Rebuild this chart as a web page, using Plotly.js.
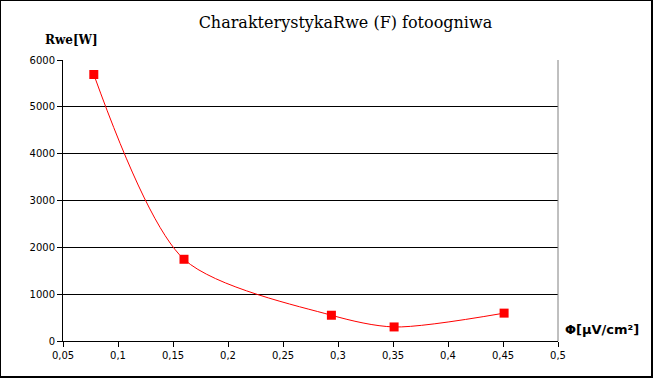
<!DOCTYPE html>
<html>
<head>
<meta charset="utf-8">
<script src="https://cdn.plot.ly/plotly-3.0.1.min.js"></script>
<style>
html,body{margin:0;padding:0;background:#fff;}
#wrap{position:relative;width:653px;height:378px;}
#chart{width:653px;height:378px;}
#frame{position:absolute;left:0;top:0;width:653px;height:378px;box-sizing:border-box;border-left:1px solid #000;border-top:1px solid #000;border-right:2px solid #000;border-bottom:2px solid #000;pointer-events:none;}
</style>
</head>
<body>
<div id="wrap"><div id="chart"></div><div id="frame"></div></div>
<script>
const flux = [0.078, 0.16, 0.294, 0.351, 0.451];
const rwe = [5690, 1745, 550, 300, 595];
const xTicks = [0.05, 0.1, 0.15, 0.2, 0.25, 0.3, 0.35, 0.4, 0.45, 0.5];
const yTicks = [0, 1000, 2000, 3000, 4000, 5000, 6000];

const trace = {
  x: flux, y: rwe, type: 'scatter', mode: 'lines+markers',
  line: {color: '#ff0000', width: 1, shape: 'spline', smoothing: 0.8},
  marker: {symbol: 'square', size: 9, color: '#ff0000'},
  hoverinfo: 'none'
};

const layout = {
  width: 653, height: 378,
  margin: {l: 63, r: 95, t: 60, b: 37},
  paper_bgcolor: '#fff', plot_bgcolor: '#fff',
  separators: ', ',
  showlegend: false,
  font: {family: 'DejaVu Sans', size: 11, color: '#000'},
  title: {text: 'CharakterystykaRwe (F) fotoogniwa', font: {family: 'DejaVu Serif', size: 16, color: '#000'},
          x: 0.529, xanchor: 'center', y: 0.94, yanchor: 'middle'},
  xaxis: {
    range: [0.05, 0.5], tickvals: xTicks, ticktext: xTicks.map(v => String(v).replace('.', ',')),
    showgrid: false, zeroline: false, showline: true, linecolor: '#000', linewidth: 1,
    ticks: 'outside', ticklen: 5, tickcolor: '#000', tickfont: {family: 'DejaVu Sans', size: 10},
    mirror: false
  },
  yaxis: {
    range: [0, 6000], tickvals: yTicks, ticktext: yTicks.map(String),
    showgrid: true, gridcolor: '#000', gridwidth: 1, zeroline: false,
    showline: true, linecolor: '#000', linewidth: 1,
    ticks: 'outside', ticklen: 5, tickcolor: '#000', tickfont: {family: 'DejaVu Sans', size: 10}
  },
  shapes: [
    {type: 'line', xref: 'paper', yref: 'paper', x0: 1, x1: 1, y0: 0, y1: 1, line: {color: '#808080', width: 1}}
  ],
  annotations: [
    {text: '<b>Rwe[W]</b>', xref: 'paper', yref: 'paper', x: -0.04, y: 1.07, xanchor: 'left', yanchor: 'middle',
     showarrow: false, font: {family: 'DejaVu Serif', size: 12, color: '#000'}},
    {text: '<b>Φ[μV/cm²]</b>', xref: 'paper', yref: 'paper', x: 1.01, y: 0.04, xanchor: 'left', yanchor: 'middle',
     showarrow: false, font: {family: 'DejaVu Sans', size: 13, color: '#000'}}
  ]
};

Plotly.newPlot('chart', [trace], layout, {staticPlot: true, displayModeBar: false});
</script>
</body>
</html>
